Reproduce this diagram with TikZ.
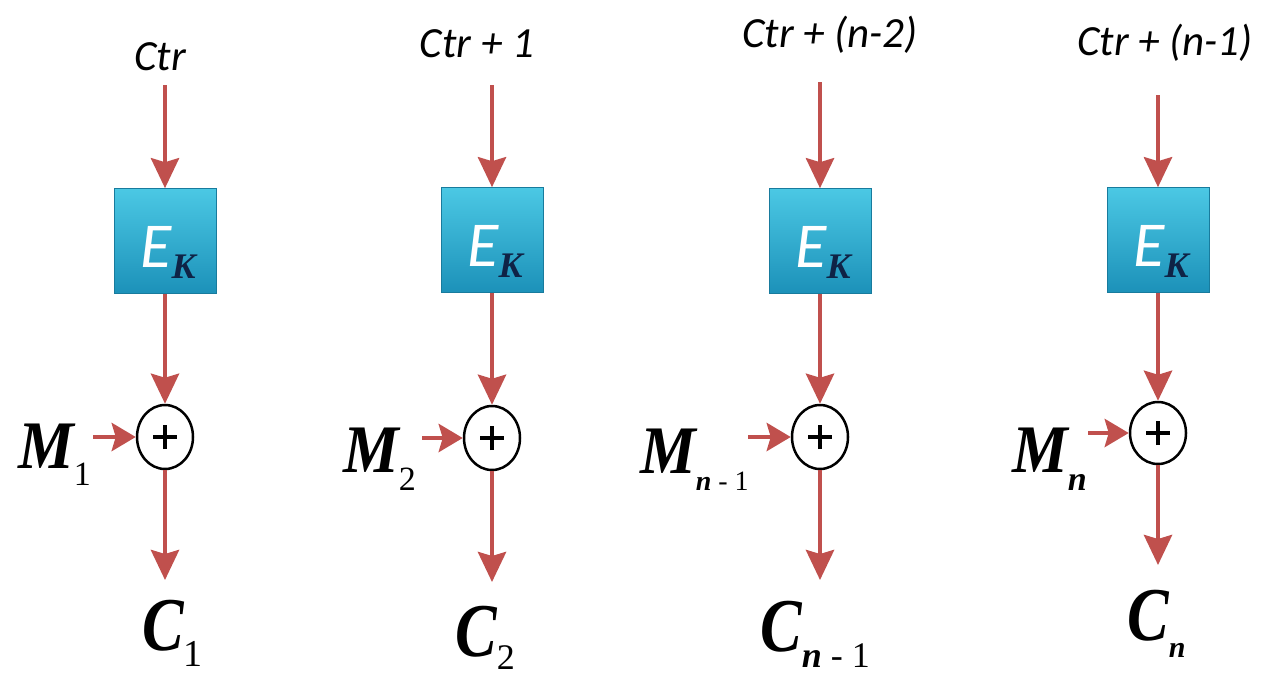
\documentclass[tikz,border=0pt]{standalone}
\usepackage{fontspec}
\usepackage{graphicx}
\setmainfont{Liberation Serif}
\newfontfamily\carlito{Carlito}
\usetikzlibrary{arrows.meta,calc,shapes.geometric}
\definecolor{arrowred}{RGB}{192,80,77}
\definecolor{boxtop}{RGB}{75,200,228}
\definecolor{boxbot}{RGB}{28,145,185}
\definecolor{kblue}{RGB}{15,35,70}
\newcommand\ctrfont{\carlito\itshape\fontsize{43}{43}\selectfont}
\newcommand\efont{\carlito\itshape\fontsize{64}{64}\selectfont\color{white}}
\newcommand\kfont{\rmfamily\bfseries\itshape\fontsize{36}{36}\selectfont\color{kblue}}
\newcommand\bigM{{\bfseries\itshape\fontsize{68}{68}\selectfont\scalebox{0.92}[1]{M}}}
\newcommand\bigC{{\bfseries\itshape\fontsize{76}{76}\selectfont\scalebox{0.82}[1]{C}}}
\newcommand\subsz[1]{\fontsize{#1}{#1}\selectfont}
\begin{document}
\begin{tikzpicture}[x=1pt,y=-1pt,
  flow/.style={draw=arrowred,line width=4.5pt,-{Stealth[length=30pt,width=28pt,inset=4pt]}},
  side/.style={draw=arrowred,line width=4.5pt,-{Stealth[length=24pt,width=28pt,inset=4pt]}},
  ekbox/.style={rectangle,minimum width=102pt,minimum height=105pt,inner sep=0pt,
    top color=boxtop,bottom color=boxbot,draw=boxbot!85!black,line width=0.6pt},
  ekl/.style={anchor=base,inner sep=0pt},
  xorop/.style={ellipse,draw=black,line width=2.5pt,minimum width=56pt,minimum height=64pt,inner sep=0pt,
    path picture={\draw[line width=3.5pt] ([xshift=-12pt]path picture bounding box.center) -- ([xshift=12pt]path picture bounding box.center)
      ([yshift=-12pt]path picture bounding box.center) -- ([yshift=12pt]path picture bounding box.center);}},
  ctrlab/.style={anchor=base,inner sep=0pt,font=\ctrfont},
  biglab/.style={anchor=base west,inner sep=0pt}]
\useasboundingbox (0,0) rectangle (1263,675);
\fill[white] (0,0) rectangle (1263,675);

% column 1
\node[ctrlab] (t1) at (160,70) {Ctr};
\coordinate (s1) at (165,85);
\node[ekbox] (b1) at (165,241) {};
\node[ekl] (k1) at (168,267) {\efont E\raisebox{-11pt}{\kfont K}};
\node[xorop] (x1) at (165,437) {};
\coordinate (e1) at (165,580);
\coordinate (m1s) at (93,437);
\node[biglab] (m1) at (18,468) {\bigM\raisebox{-17pt}{\subsz{34}1}};
\node[biglab] (c1) at (142,650) {\bigC\raisebox{-16pt}{\subsz{38}1}};
\draw[flow] (s1) -- (b1);
\draw[flow] (b1) -- (x1);
\draw[side] (m1s) -- (x1);
\draw[flow] (x1) -- (e1);

% column 2
\node[ctrlab] (t2) at (477,57) {Ctr + 1};
\coordinate (s2) at (492,85);
\node[ekbox] (b2) at (492,240) {};
\node[ekl] (k2) at (495,266) {\efont E\raisebox{-11pt}{\kfont K}};
\node[xorop] (x2) at (492,438) {};
\coordinate (e2) at (492,582);
\coordinate (m2s) at (422,438);
\node[biglab] (m2) at (343,472) {\bigM\raisebox{-18pt}{\subsz{34}2}};
\node[biglab] (c2) at (455,656) {\bigC\raisebox{-13pt}{\subsz{36}2}};
\draw[flow] (s2) -- (b2);
\draw[flow] (b2) -- (x2);
\draw[side] (m2s) -- (x2);
\draw[flow] (x2) -- (e2);

% column 3
\node[ctrlab] (t3) at (830,47) {Ctr + (n-2)};
\coordinate (s3) at (820,82);
\node[ekbox] (b3) at (820,241) {};
\node[ekl] (k3) at (823,267) {\efont E\raisebox{-11pt}{\kfont K}};
\node[xorop] (x3) at (820,437) {};
\coordinate (e3) at (820,580);
\coordinate (m3s) at (748,437);
\node[biglab] (m3) at (640,473) {\bigM\raisebox{-17pt}{\subsz{28}{\bfseries\itshape n} - 1}};
\node[biglab] (c3) at (760,651) {\bigC\raisebox{-16pt}{\subsz{36}{\bfseries\itshape n} - 1}};
\draw[flow] (s3) -- (b3);
\draw[flow] (b3) -- (x3);
\draw[side] (m3s) -- (x3);
\draw[flow] (x3) -- (e3);

% column 4
\node[ctrlab] (t4) at (1165,55) {Ctr + (n-1)};
\coordinate (s4) at (1158,95);
\node[ekbox] (b4) at (1158,240) {};
\node[ekl] (k4) at (1161,266) {\efont E\raisebox{-11pt}{\kfont K}};
\node[xorop,minimum height=62pt] (x4) at (1158,433) {};
\coordinate (e4) at (1158,565);
\coordinate (m4s) at (1088,433);
\node[biglab] (m4) at (1012,472) {\bigM\raisebox{-18pt}{\subsz{34}\bfseries\itshape n}};
\node[biglab] (c4) at (1127,640) {\bigC\raisebox{-17pt}{\subsz{30}\bfseries\itshape n}};
\draw[flow] (s4) -- (b4);
\draw[flow] (b4) -- (x4);
\draw[side] (m4s) -- (x4);
\draw[flow] (x4) -- (e4);
\end{tikzpicture}
\end{document}
